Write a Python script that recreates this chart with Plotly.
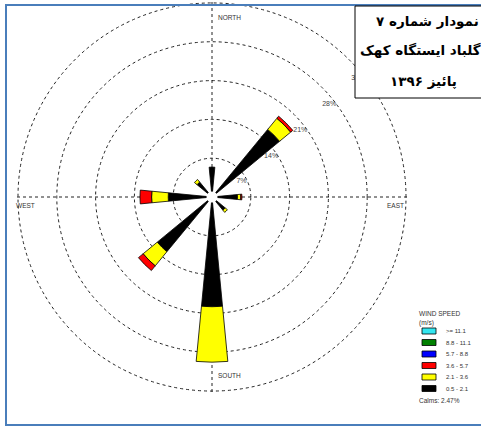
import plotly.graph_objects as go

# ---------------- data ----------------
directions = ["N", "NE", "E", "SE", "S", "SW", "W", "NW"]
direction_deg = [0, 45, 90, 135, 180, 225, 270, 315]

speed_classes = ["0.5 - 2.1", "2.1 - 3.6", "3.6 - 5.7", "5.7 - 8.8", "8.8 - 11.1", ">= 11.1"]
freq_05_21 = [5.4, 15.8, 4.6, 3.1, 19.8, 12.8, 7.9, 3.5]
freq_21_36 = [0.0, 2.6, 0.6, 0.5, 10.0, 3.3, 3.0, 0.6]
freq_36_57 = [0.0, 0.5, 0.2, 0.0, 0.0, 1.1, 2.1, 0.0]
freq_57_88 = [0.0, 0.0, 0.0, 0.0, 0.0, 0.0, 0.0, 0.0]
freq_88_111 = [0.0, 0.0, 0.0, 0.0, 0.0, 0.0, 0.0, 0.0]
freq_ge_111 = [0.0, 0.0, 0.0, 0.0, 0.0, 0.0, 0.0, 0.0]
calms_pct = 2.47

ring_values = [7, 14, 21, 28, 35]
ring_labels = ["7%", "14%", "21%", "28%", "35%"]

compass_labels = ["NORTH", "EAST", "SOUTH", "WEST"]
title_lines = ["نمودار شماره ۷", "گلباد ایستگاه کهک", "پائیز ۱۳۹۶"]
legend_title = ["WIND SPEED", "(m/s)"]

# ---------------- styles ----------------
class_colors = ["#000000", "#FFFF00", "#FF0000", "#0000FF", "#008000", "#33E6F0"]
W, H = 481, 428


def px(x):
    return x / W


def py(y):
    return 1 - y / H


fig = go.Figure()
series = [freq_05_21, freq_21_36, freq_36_57, freq_57_88, freq_88_111, freq_ge_111]
for name, vals, col in zip(speed_classes, series, class_colors):
    fig.add_trace(go.Barpolar(
        r=vals, theta=direction_deg, name=name, width=11,
        marker=dict(color=col, line=dict(color="black", width=0.8)),
        showlegend=False, hoverinfo="skip"))

# calm circle at centre
fig.add_trace(go.Scatterpolar(r=[0], theta=[0], mode="markers",
                              marker=dict(size=11, color="white", line=dict(width=0)),
                              showlegend=False, hoverinfo="skip"))

# ring labels (placed just inside each ring, along the NE diagonal)
fig.add_trace(go.Scatterpolar(
    r=[v - 1.0 for v in ring_values], theta=[48 + 100 / v for v in ring_values],
    mode="text", text=ring_labels,
    textfont=dict(size=7, color="#444", family="Liberation Sans"),
    showlegend=False, hoverinfo="skip", cliponaxis=False))

rmax = 35.4
cx, cy = 212, 197
R = 194 * rmax / 35
fig.update_layout(
    width=W, height=H, margin=dict(l=0, r=0, t=0, b=0),
    paper_bgcolor="white", plot_bgcolor="white",
    polar=dict(
        domain=dict(x=[px(cx - R), px(cx + R)], y=[py(cy + R), py(cy - R)]),
        bgcolor="white",
        barmode="stack",
        radialaxis=dict(range=[0, rmax], tickvals=ring_values, showticklabels=False,
                        ticks="", showline=False, gridcolor="#222", griddash="3px,3px",
                        gridwidth=1),
        angularaxis=dict(rotation=90, direction="clockwise", dtick=90,
                         showticklabels=False, ticks="", showline=False,
                         gridcolor="#222", griddash="3px,3px", gridwidth=1),
    ),
)

shapes = []
annotations = []


def note(x, y, text, size, xanchor="left", color="#333", family="Liberation Sans"):
    annotations.append(dict(x=px(x), y=py(y), xref="paper", yref="paper", text=text,
                            showarrow=False, xanchor=xanchor, yanchor="middle",
                            font=dict(size=size, color=color, family=family)))


# blue frame
shapes.append(dict(type="rect", xref="paper", yref="paper",
                   x0=px(6), x1=px(495), y0=py(425), y1=py(5),
                   line=dict(color="#4A7EBB", width=2), fillcolor="rgba(0,0,0,0)",
                   layer="above"))
# title box
shapes.append(dict(type="rect", xref="paper", yref="paper",
                   x0=px(355), x1=px(495), y0=py(98), y1=py(6),
                   line=dict(color="black", width=1), fillcolor="white", layer="above"))
title_cx = [427, 420, 423]
title_y = [21, 50, 81]
for t, tx, ty in zip(title_lines, title_cx, title_y):
    note(tx, ty, "<b>" + t + "</b>", 13.5, xanchor="center", color="black",
         family="DejaVu Sans")

# compass labels
comp_pos = {"NORTH": (216, 17), "EAST": (385, 205), "SOUTH": (216, 375), "WEST": (14, 205)}
for lab in compass_labels:
    x, y = comp_pos[lab]
    note(x, y, lab, 6.5)

# legend (manual)
note(417, 313, legend_title[0], 6.5)
note(417, 323, legend_title[1], 6.5)
for i, (name, col) in enumerate(zip(speed_classes[::-1], class_colors[::-1])):
    yc = 331 + 11.5 * i
    shapes.append(dict(type="rect", xref="paper", yref="paper",
                       x0=px(422), x1=px(436), y0=py(yc + 3), y1=py(yc - 3),
                       fillcolor=col, line=dict(color="black", width=0.8), layer="above"))
    note(444, yc, name, 6)
note(417, 400, f"Calms: {calms_pct:.2f}%", 6.5)

fig.update_layout(shapes=shapes, annotations=annotations)
fig.write_html("out.html",
               config={"displayModeBar": False},
               post_script="document.body.style.margin='0';"
                           "document.body.style.overflow='hidden';")
